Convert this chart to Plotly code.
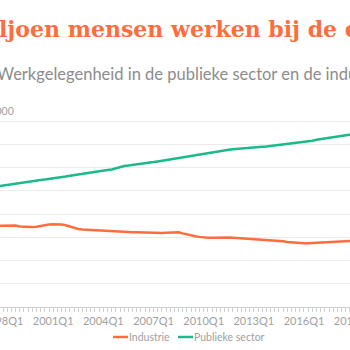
import plotly.graph_objects as go

# quarters from 1997Q4 to 2019Q1
quarters = ["1997Q4"] + [f"{y}Q{q}" for y in range(1998, 2019) for q in range(1, 5)] + ["2019Q1"]

publieke_sector = [
    920, 923, 925, 929, 932, 935, 937, 940, 943, 945, 947, 949, 951, 953, 956, 959,
    962, 965, 968, 971, 974, 978, 981, 984, 986, 988, 990, 992, 997, 1003, 1007, 1009,
    1011, 1013, 1015, 1018, 1021, 1024, 1027, 1030, 1033, 1036, 1040, 1044, 1047, 1049, 1051, 1053,
    1056, 1059, 1062, 1065, 1068, 1071, 1074, 1077, 1079, 1081, 1083, 1085, 1087, 1088, 1089, 1090,
    1091, 1093, 1095, 1097, 1099, 1102, 1104, 1106, 1108, 1110, 1113, 1116, 1120, 1123, 1126, 1129,
    1132, 1134, 1137, 1139, 1142, 1145,
]
industrie = [
    750, 751, 752, 753, 751, 747, 745, 744, 744, 746, 750, 753, 755, 756, 756, 755,
    752, 746, 741, 736, 734, 733, 731, 729, 727, 726, 725, 724, 724, 723, 723, 723,
    722, 722, 721, 721, 720, 718, 718, 719, 720, 721, 722, 722, 717, 712, 708, 705,
    702, 699, 698, 698, 699, 700, 700, 699, 698, 697, 696, 694, 692, 691, 690, 689,
    688, 687, 686, 685, 683, 680, 678, 676, 675, 675, 675, 676, 677, 678, 678, 679,
    680, 681, 682, 683, 684, 685,
]
tick_labels = ["1998Q1", "2001Q1", "2004Q1", "2007Q1", "2010Q1", "2013Q1", "2016Q1", "2019Q1"]
series_names = ["Industrie", "Publieke sector"]

def qindex(s):
    return (int(s[:4]) - 1998) * 4 + int(s[-1]) - 1

x = [qindex(s) for s in quarters]
tick_vals = [qindex(s) for s in tick_labels]

ORANGE = "#ff6d3f"
GREEN = "#1bb98b"
GREY = "#a0a0a0"

fig = go.Figure()
fig.add_trace(go.Scatter(x=x, y=industrie, name=series_names[0], mode="lines",
                         line=dict(color=ORANGE, width=2.5)))
fig.add_trace(go.Scatter(x=x, y=publieke_sector, name=series_names[1], mode="lines",
                         line=dict(color=GREEN, width=2.5)))

W, H = 400, 350
SHIFT = 20
ML, MR, MT, MB = 18, 20, 98, 43
PW = W - ML - MR
PH = H - MT - MB

def px(s):  # screen x -> paper x
    return (s + SHIFT - ML) / PW

def py(s):  # screen y -> paper y
    return (H - MB - s) / PH

fig.update_layout(
    width=W, height=H,
    margin=dict(l=ML, r=MR, t=MT, b=MB, autoexpand=False),
    paper_bgcolor="white", plot_bgcolor="white",
    font=dict(family="Lato", color=GREY),
    showlegend=False,
    xaxis=dict(range=[-1.2, 85.4], tickmode="array", tickvals=tick_vals, ticktext=tick_labels,
               automargin=False,
               showgrid=False, zeroline=False, showline=True, linecolor="#cfcfcf", linewidth=1,
               ticks="outside", ticklen=4, tickcolor="#cfcfcf",
               minor=dict(dtick=1, tick0=0, ticks="outside", ticklen=4, tickcolor="#cfcfcf", showgrid=False),
               tickfont=dict(family="Lato", size=11, color=GREY)),
    yaxis=dict(range=[400, 1300], dtick=100, showticklabels=False, showgrid=True, automargin=False,
               gridcolor="#ebebeb", gridwidth=1, zeroline=False),
)

# title (left part cut off by the viewport, as in the reference)
for txt, anc in [("1,1 mi", "right"), ("ljoen mensen werken bij de overheid", "left")]:
    fig.add_annotation(xref="paper", yref="paper", x=px(-1), xanchor=anc, y=py(29), yanchor="middle",
                       text=txt, showarrow=False, borderpad=0, borderwidth=0,
                       font=dict(family="DejaVu Serif", size=22, color=ORANGE, weight="bold"))
fig.add_annotation(xref="paper", yref="paper", x=px(-3), xanchor="left", y=py(74), yanchor="middle",
                   text="Werkgelegenheid in de publieke sector en de industrie", showarrow=False,
                   borderpad=0, borderwidth=0, font=dict(family="Lato", size=16.5, color="#8c8c8c"))
fig.add_annotation(xref="paper", yref="paper", x=px(14), xanchor="right", y=py(111), yanchor="middle",
                   text="x 1.000", showarrow=False, borderpad=0, borderwidth=0,
                   font=dict(family="Lato", size=10.5, color=GREY))

# legend (short line keys)
legend_items = [(series_names[0], ORANGE, 113), (series_names[1], GREEN, 178)]
for name, col, s0 in legend_items:
    fig.add_shape(type="line", xref="paper", yref="paper", x0=px(s0), x1=px(s0 + 15),
                  y0=py(337), y1=py(337), line=dict(color=col, width=2.5))
    fig.add_annotation(xref="paper", yref="paper", x=px(s0 + 16), xanchor="left", y=py(337),
                       yanchor="middle", text=name, showarrow=False, borderpad=0, borderwidth=0,
                       font=dict(family="Lato", size=10.5, color=GREY))

post = ("var d=document.getElementById('{plot_id}');"
        "d.style.position='absolute';d.style.left='-%dpx';d.style.top='0px';"
        "document.body.style.overflow='hidden';document.documentElement.style.overflow='hidden';" % SHIFT)
fig.write_html("out.html", post_script=post)
